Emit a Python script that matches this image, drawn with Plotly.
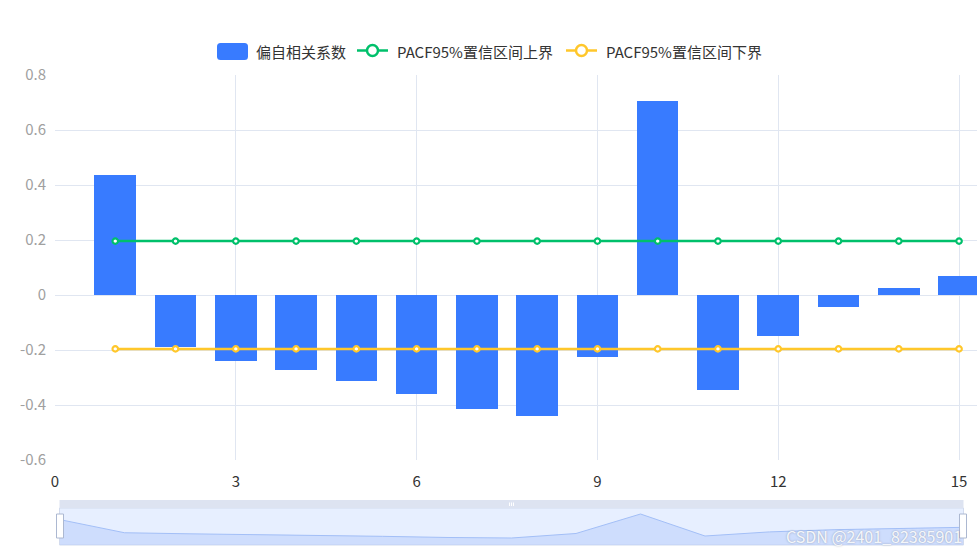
import plotly.graph_objects as go

lags = [1, 2, 3, 4, 5, 6, 7, 8, 9, 10, 11, 12, 13, 14, 15]
pacf = [0.436, -0.189, -0.240, -0.273, -0.313, -0.360, -0.415, -0.440,
        -0.225, 0.705, -0.345, -0.149, -0.044, 0.025, 0.069]
upper = [0.196, 0.196, 0.196, 0.196, 0.196, 0.196, 0.196, 0.196,
         0.196, 0.196, 0.196, 0.196, 0.196, 0.196, 0.196]
lower = [-0.196, -0.196, -0.196, -0.196, -0.196, -0.196, -0.196, -0.196,
         -0.196, -0.196, -0.196, -0.196, -0.196, -0.196, -0.196]
x_ticks = [0, 3, 6, 9, 12, 15]
y_ticks = [-0.6, -0.4, -0.2, 0, 0.2, 0.4, 0.6, 0.8]
y_tick_text = ["-0.6", "-0.4", "-0.2", "0", "0.2", "0.4", "0.6", "0.8"]
legend_names = ["偏自相关系数", "PACF95%置信区间上界", "PACF95%置信区间下界"]

BAR_C = "#387bff"
UP_C = "#00c06b"
LO_C = "#ffc72b"

W, H = 977, 555
PL, PR, PT, PB = 55, 977, 75, 545   # plot block in page pixels
PH = PB - PT
PW = PR - PL
SLIDER_Y = [-0.774, 0.991]


def fy(py):
    return (PB - py) / PH


def fx(px):
    return (px - PL) / PW


fig = go.Figure()

fig.add_trace(go.Bar(
    x=lags, y=pacf, name=legend_names[0], width=0.69,
    marker=dict(color=BAR_C, line=dict(width=0)),
    xaxis="x", yaxis="y",
))
fig.add_trace(go.Scatter(
    x=lags, y=upper, name=legend_names[1], mode="lines+markers",
    line=dict(color=UP_C, width=2.5),
    marker=dict(symbol="circle", size=5.5, color="white",
                line=dict(color=UP_C, width=2.2)),
    xaxis="x", yaxis="y",
))
fig.add_trace(go.Scatter(
    x=lags, y=lower, name=legend_names[2], mode="lines+markers",
    line=dict(color=LO_C, width=2.5),
    marker=dict(symbol="circle", size=5.5, color="white",
                line=dict(color=LO_C, width=2.2)),
    xaxis="x", yaxis="y",
))

# data-zoom slider shadow (area down to slider bottom + line)
fig.add_trace(go.Scatter(
    x=lags + [lags[-1], lags[0]], y=pacf + [SLIDER_Y[0], SLIDER_Y[0]],
    mode="none", fill="toself", fillcolor="rgba(160,190,248,0.35)",
    showlegend=False, hoverinfo="skip", xaxis="x2", yaxis="y2",
))
fig.add_trace(go.Scatter(
    x=lags, y=pacf, mode="lines", showlegend=False, hoverinfo="skip",
    line=dict(color="#a3bff7", width=1),
    xaxis="x2", yaxis="y2",
))

fig.update_layout(
    width=W, height=H,
    margin=dict(l=PL, r=W - PR, t=PT, b=H - PB),
    paper_bgcolor="white", plot_bgcolor="white",
    font=dict(family="Noto Sans CJK SC, Noto Sans, sans-serif", size=15, color="#333"),
    bargap=0,
    showlegend=False,
    xaxis=dict(domain=[0, 1], range=[0, (PR - PL) / 60.27], tickvals=x_ticks,
               showgrid=True, gridcolor="#e0e6f1", gridwidth=1, zeroline=False,
               showline=False, ticks="", tickfont=dict(size=15, color="#333"),
               anchor="y", ticklabelstandoff=11, fixedrange=True),
    yaxis=dict(domain=[fy(460), 1], range=[-0.6, 0.8], tickvals=y_ticks,
               ticktext=y_tick_text, showgrid=True, gridcolor="#e0e6f1",
               zeroline=True, zerolinecolor="#e0e6f1", zerolinewidth=1,
               showline=False, ticks="", tickfont=dict(size=15, color="#a0a0a0"),
               anchor="x", ticklabelstandoff=8, fixedrange=True),
    xaxis2=dict(domain=[fx(60), fx(963)], range=[1, 15], visible=False,
                anchor="y2", fixedrange=True),
    yaxis2=dict(domain=[0, fy(508)], range=SLIDER_Y, visible=False,
                anchor="x2", fixedrange=True),
)

shapes = [
    # slider background (selected filler)
    dict(type="rect", xref="paper", yref="paper", x0=fx(59.5), x1=fx(963.5),
         y0=fy(545), y1=fy(508), fillcolor="rgba(135,175,255,0.2)",
         line=dict(color="#d2dbee", width=1), layer="below"),
    # move handle bar
    dict(type="rect", xref="paper", yref="paper", x0=fx(59.5), x1=fx(963.5),
         y0=fy(508), y1=fy(500), fillcolor="#dde3f1",
         line=dict(width=0), layer="below"),
    # handles
    dict(type="rect", xref="paper", yref="paper", x0=fx(56.5), x1=fx(63.5),
         y0=fy(538), y1=fy(514), fillcolor="white",
         line=dict(color="#acb8d1", width=1)),
    dict(type="rect", xref="paper", yref="paper", x0=fx(959.5), x1=fx(966.5),
         y0=fy(538), y1=fy(514), fillcolor="white",
         line=dict(color="#acb8d1", width=1)),
]
for px in (509.5, 511.5, 513.5):
    shapes.append(dict(type="line", xref="paper", yref="paper", x0=fx(px), x1=fx(px),
                       y0=fy(506), y1=fy(502.5), line=dict(color="white", width=1)))


# custom legend (ECharts style icons)
def rounded_rect(x0, y0, x1, y1, r):
    X = lambda p: fx(p)
    Y = lambda p: fy(p)
    return (f"M {X(x0 + r)} {Y(y0)} L {X(x1 - r)} {Y(y0)} Q {X(x1)} {Y(y0)} {X(x1)} {Y(y0 + r)} "
            f"L {X(x1)} {Y(y1 - r)} Q {X(x1)} {Y(y1)} {X(x1 - r)} {Y(y1)} "
            f"L {X(x0 + r)} {Y(y1)} Q {X(x0)} {Y(y1)} {X(x0)} {Y(y1 - r)} "
            f"L {X(x0)} {Y(y0 + r)} Q {X(x0)} {Y(y0)} {X(x0 + r)} {Y(y0)} Z")


LEG_Y = 51.5
shapes.append(dict(type="path", xref="paper", yref="paper",
                   path=rounded_rect(217, 43, 248, 60, 3.5),
                   fillcolor=BAR_C, line=dict(width=0)))
for (lx0, lx1, col) in ((357, 388, UP_C), (566, 597, LO_C)):
    cx = (lx0 + lx1) / 2
    shapes.append(dict(type="line", xref="paper", yref="paper", x0=fx(lx0), x1=fx(lx1),
                       y0=fy(LEG_Y - 1), y1=fy(LEG_Y - 1), line=dict(color=col, width=2.5)))
    shapes.append(dict(type="circle", xref="paper", yref="paper",
                       x0=fx(cx - 5.5), x1=fx(cx + 5.5),
                       y0=fy(LEG_Y - 1 + 5.5), y1=fy(LEG_Y - 1 - 5.5),
                       fillcolor="white", line=dict(color=col, width=2.5)))
fig.update_layout(shapes=shapes)

for name, tx in zip(legend_names, (254, 395, 604)):
    fig.add_annotation(text=name, xref="paper", yref="paper", x=fx(tx), y=fy(LEG_Y),
                       xanchor="left", yanchor="middle", showarrow=False,
                       font=dict(size=15, color="#333"))

fig.add_annotation(text="CSDN @2401_82385901", xref="paper", yref="paper",
                   x=fx(964), y=fy(536), xanchor="right", yanchor="middle",
                   showarrow=False,
                   font=dict(size=16, color="rgba(255,255,255,0.9)",
                             shadow="0px 0px 2px rgba(90,100,120,0.6)"))

fig.write_html("out.html",
               config={"displayModeBar": False},
               post_script="document.body.style.margin='0';"
                           "document.body.style.overflow='hidden';")
